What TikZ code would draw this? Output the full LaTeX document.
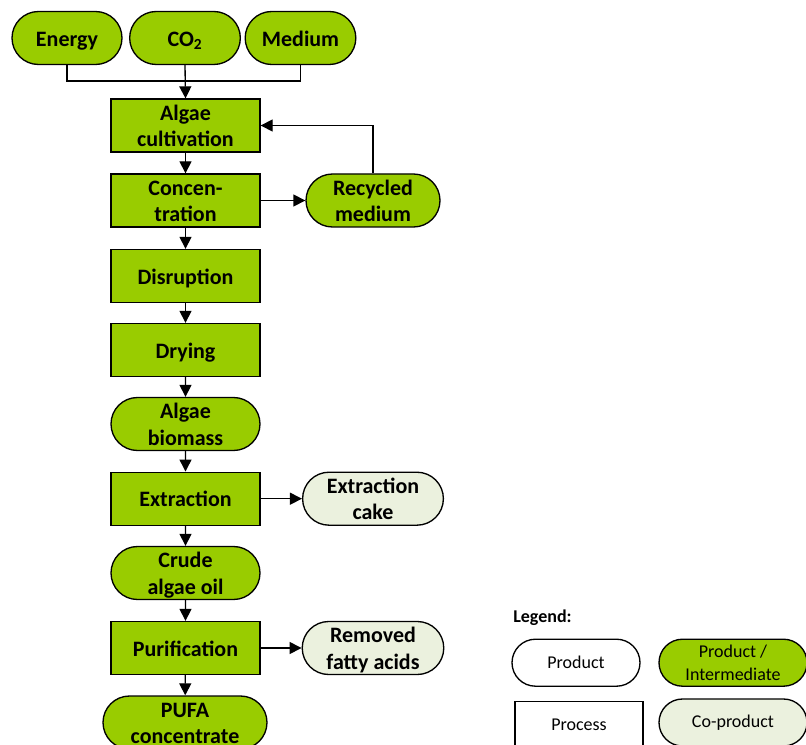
\documentclass[tikz,border=0pt]{standalone}
\usepackage{fontspec}
\setmainfont{Carlito}
\usetikzlibrary{shapes.misc,arrows.meta}
\definecolor{grn}{HTML}{99CC00}
\definecolor{cop}{HTML}{EBF1DE}
\newcommand\lowtxt[1]{\raisebox{-2.1pt}[\height][\depth]{\begin{tabular}{@{}c@{}}#1\end{tabular}}}
\tikzset{
  base/.style={draw=black, line width=1pt, inner sep=0pt, align=center, text=black},
  bigfont/.style={font=\bfseries\fontsize{16.5}{19.8}\selectfont},
  smallfont/.style={font=\fontsize{13.5}{17.2}\selectfont},
  proc/.style={base, bigfont, rectangle, fill=grn, minimum width=111.75pt, minimum height=39.75pt},
  prod/.style={base, bigfont, rounded rectangle, fill=grn, minimum width=111.75pt, minimum height=39.75pt},
  coprod/.style={base, bigfont, rounded rectangle, fill=cop, minimum width=100.5pt, minimum height=39.75pt},
  arr/.style={line width=1pt, -{Triangle[length=9pt,width=9pt]}},
  ln/.style={line width=1pt}
}
\begin{document}
\begin{tikzpicture}[x=0.75pt,y=-0.75pt]
\useasboundingbox (0,0) rectangle (806,745);
% inputs
\node[prod, minimum width=82.5pt] (energy) at (67,38) {\lowtxt{Energy}};
\node[prod, minimum width=83pt] (co2) at (185,38) {\lowtxt{CO\textsubscript{2}}};
\node[prod, minimum width=83pt] (medium) at (300.5,38) {\lowtxt{Medium}};
% main column
\node[proc] (cult) at (185.5,125.5) {\lowtxt{Algae\\cultivation}};
\node[proc] (conc) at (185.5,200.5) {\lowtxt{Concen-\\tration}};
\node[prod, minimum width=100.5pt] (recyc) at (373,200.5) {\lowtxt{Recycled\\medium}};
\node[proc] (disr) at (185.5,276) {\lowtxt{Disruption}};
\node[proc] (dry) at (185.5,350) {\lowtxt{Drying}};
\node[prod] (bio) at (185.5,424) {\lowtxt{Algae\\biomass}};
\node[proc] (extr) at (185.5,498.7) {\lowtxt{Extraction}};
\node[coprod] (cake) at (373,498.7) {\lowtxt{Extraction\\cake}};
\node[prod] (crude) at (185.5,573) {\lowtxt{Crude\\algae oil}};
\node[proc] (pur) at (185.5,648) {\lowtxt{Purification}};
\node[coprod] (rfa) at (373,648) {\lowtxt{Removed\\fatty acids}};
\node[prod, minimum width=123pt] (pufa) at (185,722.5) {\lowtxt{PUFA\\concentrate}};
% connectors
\coordinate (join) at (185,81);
\draw[ln] (energy.south) |- (join) -| (medium.south);
\draw[arr] (co2.south) -- (cult.north);
\draw[arr] (cult) -- (conc);
\draw[arr] (conc.east) -- (recyc.west);
\draw[arr] (recyc.north) |- (cult.east);
\draw[arr] (conc) -- (disr);
\draw[arr] (disr) -- (dry);
\draw[arr] (dry) -- (bio);
\draw[arr] (bio) -- (extr);
\draw[arr] (extr.east) -- (cake.west);
\draw[arr] (extr) -- (crude);
\draw[arr] (crude) -- (pur);
\draw[arr] (pur.east) -- (rfa.west);
\draw[arr] (pur) -- (pufa);
% legend
\node[anchor=west, font=\bfseries\fontsize{13.5}{16}\selectfont, inner sep=0pt] (leg) at (513,618) {Legend:};
\node[base, smallfont, rounded rectangle, fill=white, minimum width=96pt, minimum height=35.25pt] (lprod) at (576,662.7) {Product};
\node[base, smallfont, rounded rectangle, fill=grn, minimum width=111pt, minimum height=35.25pt] (lint) at (733,662.7) {Product /\\Intermediate};
\node[base, smallfont, rectangle, fill=white, minimum width=96pt, minimum height=35.25pt] (lproc) at (579,725) {Process};
\node[base, smallfont, rounded rectangle, fill=cop, minimum width=111pt, minimum height=35.25pt] (lcop) at (733,722.5) {Co-product};
\end{tikzpicture}
\end{document}
